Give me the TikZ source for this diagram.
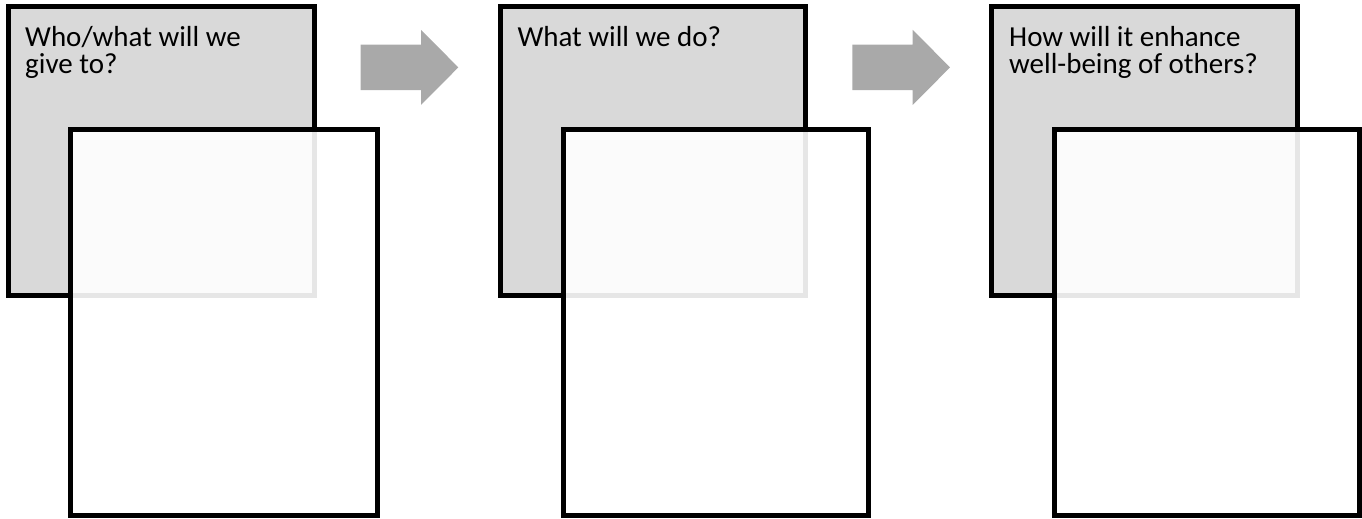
\documentclass[tikz,border=0pt]{standalone}
\usepackage{fontspec}
\setmainfont{Carlito}
\definecolor{boxgray}{HTML}{D9D9D9}
\definecolor{arrowgray}{HTML}{A9A9A9}
\tikzset{
  graybox/.style={draw=black, line width=5pt, line join=miter, fill=boxgray, rectangle, inner sep=0pt},
  whitebox/.style={draw=black, line width=5pt, line join=miter, fill=white, fill opacity=0.9, draw opacity=1, rectangle, inner sep=0pt},
  qtext/.style={anchor=base west, align=left, inner sep=0pt, font=\fontsize{29}{26.7}\selectfont},
  blockarrow/.style={fill=arrowgray, draw=none}
}
\begin{document}
\begin{tikzpicture}[x=1pt,y=1pt]
\useasboundingbox (0,0) rectangle (1362,519);
% group 1
\draw[graybox] (8,223) rectangle (314,512);
\node[qtext] (t1) at (25,445.6) {Who/what will we\\give to?};
\draw[whitebox] (70.5,3.5) rectangle (377,389.5);
% arrow 1
\fill[blockarrow] (360.7,474.3) -- (421,474.3) -- (421,489.2) -- (458.3,451.6) -- (421,414) -- (421,428.8) -- (360.7,428.8) -- cycle;
% group 2
\draw[graybox] (500,223) rectangle (805.5,512);
\node[qtext] (t2) at (517.3,472.3) {What will we do?};
\draw[whitebox] (563,3.5) rectangle (868.5,389.5);
% arrow 2
\fill[blockarrow] (852.4,474.3) -- (912.7,474.3) -- (912.7,489.2) -- (950,451.6) -- (912.7,414) -- (912.7,428.8) -- (852.4,428.8) -- cycle;
% group 3
\draw[graybox] (991.5,223) rectangle (1297,512);
\node[qtext] (t3) at (1009,445.6) {How will it enhance\\well-being of others?};
\draw[whitebox] (1054,3.5) rectangle (1359,389.5);
\end{tikzpicture}
\end{document}
